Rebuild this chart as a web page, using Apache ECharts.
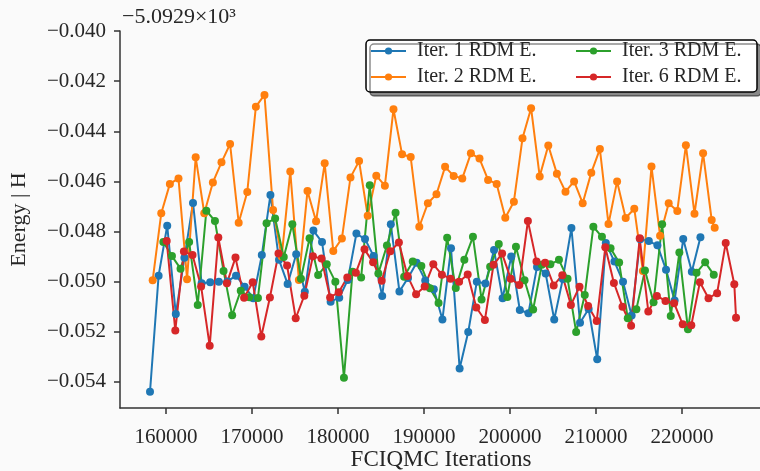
<!DOCTYPE html>
<html><head><meta charset="utf-8">
<script src="https://cdn.jsdelivr.net/npm/echarts@6/dist/echarts.min.js"></script>
<style>html,body{margin:0;padding:0;background:#fafafa}#c{width:760px;height:471px}</style>
</head><body><div id="c"></div>
<script>
// ---- data (energies shown relative to the offset -5.0929e3) ----
const seriesNames = ['Iter. 1 RDM E.', 'Iter. 2 RDM E.', 'Iter. 3 RDM E.', 'Iter. 6 RDM E.'];
const xTicks = [160000, 170000, 180000, 190000, 200000, 210000, 220000];
const yTicks = [-0.054, -0.052, -0.050, -0.048, -0.046, -0.044, -0.042, -0.040];

const blueX = [158140,159140,160140,161140,162140,163140,164140,165140,166140,167140,168140,169140,170140,171140,172140,173140,174140,175140,176140,177140,178140,179140,180140,181140,182140,183140,184140,185140,186140,187140,188140,189140,190140,191140,192140,193140,194140,195140,196140,197140,198140,199140,200140,201140,202140,203140,204140,205140,206140,207140,208140,209140,210140,211140,212140,213140,214140,215140,216140,217140,218140,219140,220140,221140,222140];
const blueY = [-0.05439,-0.04976,-0.04777,-0.05129,-0.04905,-0.04686,-0.05006,-0.05002,-0.05000,-0.04999,
  -0.04976,-0.05020,-0.05066,-0.04894,-0.04654,-0.04913,-0.05009,-0.04891,-0.05040,-0.04796,
  -0.04842,-0.05080,-0.05064,-0.04993,-0.04808,-0.04830,-0.04898,-0.05057,-0.04771,-0.05039,
  -0.04985,-0.04925,-0.04995,-0.05030,-0.05151,-0.04867,-0.05346,-0.05201,-0.05000,-0.05007,
  -0.04874,-0.05066,-0.04900,-0.05113,-0.05126,-0.04941,-0.04967,-0.05151,-0.04989,-0.04786,
  -0.05164,-0.05109,-0.05310,-0.04846,-0.04920,-0.05000,-0.05135,-0.04831,-0.04838,-0.04855,
  -0.04952,-0.05075,-0.04830,-0.04960,-0.04823];

const orangeX = [158450,159450,160450,161450,162450,163450,164450,165450,166450,167450,168450,169450,170450,171450,172450,173450,174450,175450,176450,177450,178450,179450,180450,181450,182450,183450,184450,185450,186450,187450,188450,189450,190450,191450,192450,193450,194450,195450,196450,197450,198450,199450,200450,201450,202450,203450,204450,205450,206450,207450,208450,209450,210450,211450,212450,213450,214450,215450,216450,217450,218450,219450,220450,221450,222450,223450,223800];
const orangeY = [-0.04994,-0.04727,-0.04610,-0.04588,-0.04990,-0.04504,-0.04727,-0.04604,-0.04524,-0.04451,
  -0.04765,-0.04642,-0.04302,-0.04255,-0.04714,-0.04900,-0.04561,-0.04993,-0.04638,-0.04759,
  -0.04528,-0.04878,-0.04828,-0.04584,-0.04519,-0.04737,-0.04577,-0.04617,-0.04312,-0.04492,
  -0.04503,-0.04781,-0.04687,-0.04651,-0.04542,-0.04578,-0.04588,-0.04488,-0.04509,-0.04594,
  -0.04610,-0.04745,-0.04681,-0.04428,-0.04308,-0.04580,-0.04457,-0.04569,-0.04641,-0.04600,
  -0.04687,-0.04565,-0.04471,-0.04770,-0.04600,-0.04746,-0.04709,-0.04957,-0.04541,-0.04817,
  -0.04687,-0.04718,-0.04456,-0.04729,-0.04488,-0.04754,-0.04785];

const greenX = [159690,160690,161690,162690,163690,164690,165690,166690,167690,168690,169690,170690,171690,172690,173690,174690,175690,176690,177690,178690,179690,180690,181690,182690,183690,184690,185690,186690,187690,188690,189690,190690,191690,192690,193690,194690,195690,196690,197690,198690,199690,200690,201690,202690,203690,204690,205690,206690,207690,208690,209690,210690,211690,212690,213690,214690,215690,216690,217690,218690,219690,220690,221690,222690,223690];
const greenY = [-0.04842,-0.04898,-0.04948,-0.04842,-0.05093,-0.04717,-0.04758,-0.04957,-0.05134,-0.05036,
  -0.05062,-0.05065,-0.04767,-0.04748,-0.04902,-0.04771,-0.04988,-0.04827,-0.04973,-0.04931,
  -0.05000,-0.05383,-0.04960,-0.04983,-0.04615,-0.04967,-0.04856,-0.04725,-0.04980,-0.04920,
  -0.04938,-0.05026,-0.05085,-0.04825,-0.05025,-0.04913,-0.04821,-0.05071,-0.04940,-0.04850,
  -0.05061,-0.04861,-0.04994,-0.05111,-0.04933,-0.04931,-0.04913,-0.04988,-0.05201,-0.05053,
  -0.04781,-0.04821,-0.04867,-0.04924,-0.05146,-0.05110,-0.04955,-0.05082,-0.04771,-0.05137,
  -0.04884,-0.05190,-0.04964,-0.04923,-0.04972];

const redX = [160080,161080,162080,163080,164080,165080,166080,167080,168080,169080,170080,171080,172080,173080,174080,175080,176080,177080,178080,179080,180080,181080,182080,183080,184080,185080,186080,187080,188080,189080,190080,191080,192080,193080,194080,195080,196080,197080,198080,199080,200080,201080,202080,203080,204080,205080,206080,207080,208080,209080,210080,211080,212080,213080,214080,215080,216080,217080,218080,219080,220080,221080,222080,223080,224080,225080,226080,226280];
const redY = [-0.04838,-0.05195,-0.04880,-0.04894,-0.05019,-0.05256,-0.04824,-0.05006,-0.04904,-0.05064,
  -0.05002,-0.05219,-0.05063,-0.04888,-0.04936,-0.05146,-0.05056,-0.04899,-0.04908,-0.05063,
  -0.05042,-0.04983,-0.04964,-0.04871,-0.04923,-0.04996,-0.04879,-0.04844,-0.04977,-0.05050,
  -0.05019,-0.04931,-0.04972,-0.04988,-0.05000,-0.04971,-0.05103,-0.05153,-0.04933,-0.04888,
  -0.04988,-0.05013,-0.04758,-0.04920,-0.04925,-0.05015,-0.04974,-0.05093,-0.05020,-0.05097,
  -0.05157,-0.04863,-0.05005,-0.05100,-0.05176,-0.04827,-0.05119,-0.05057,-0.05077,-0.05086,
  -0.05170,-0.05174,-0.05002,-0.05066,-0.05046,-0.04846,-0.05010,-0.05144];

// ---- chart ----
const FONT = 'Liberation Serif';
const TXT = '#262626';
const colors = ['#1f77b4', '#ff7f0e', '#2ca02c', '#d62728'];
const xsAll = [blueX, orangeX, greenX, redX];
const ysAll = [blueY, orangeY, greenY, redY];
const zip = (a, b) => a.map((v, i) => [v, b[i]]);
const legendPos = [[370, 41], [370, 67], [575, 41], [575, 67]];
const axisLineStyle = { color: '#333', width: 1.5 };

const chart = echarts.init(document.getElementById('c'), null, { renderer: 'canvas' });
chart.setOption({
  backgroundColor: '#fafafa',
  animation: false,
  grid: { left: 120, top: 31, width: 642, height: 377, containLabel: false, outerBoundsMode: 'none' },
  xAxis: {
    type: 'value', min: 154650, max: 229300,
    axisLine: { show: true, onZero: false, lineStyle: axisLineStyle },
    axisTick: { show: true, length: 6, lineStyle: axisLineStyle, customValues: xTicks },
    axisLabel: { customValues: xTicks, formatter: v => String(v), fontFamily: FONT, fontSize: 21, color: TXT, margin: 19 },
    splitLine: { show: false },
    name: 'FCIQMC Iterations', nameLocation: 'middle', nameGap: 52, nameMoveOverlap: false,
    nameTextStyle: { fontFamily: FONT, fontSize: 23, color: TXT, verticalAlign: 'middle' }
  },
  yAxis: {
    type: 'value', min: -0.05504, max: -0.040,
    axisLine: { show: true, onZero: false, lineStyle: axisLineStyle },
    axisTick: { show: true, length: 6, lineStyle: axisLineStyle, customValues: yTicks },
    axisLabel: { customValues: yTicks, formatter: v => (v < 0 ? '\u2212' : '') + Math.abs(v).toFixed(3),
      fontFamily: FONT, fontSize: 21, color: TXT, margin: 14 },
    splitLine: { show: false },
    name: 'Energy | H', nameLocation: 'middle', nameGap: 90, nameRotate: 90, nameMoveOverlap: false,
    nameTextStyle: { fontFamily: FONT, fontSize: 22, color: TXT }
  },
  legend: seriesNames.map((n, i) => ({
    data: [n], left: legendPos[i][0], top: legendPos[i][1], orient: 'horizontal',
    itemWidth: 35, itemHeight: 9, itemGap: 0, padding: 0, selectedMode: false, z: 20,
    textStyle: { fontFamily: FONT, fontSize: 20, color: TXT, padding: [0, 0, 0, 6], lineHeight: 20 }
  })),
  graphic: [
    { type: 'rect', z: 15, shape: { x: 366, y: 40, width: 391, height: 52, r: 4 },
      style: { fill: '#ffffff', stroke: '#000', lineWidth: 1.5, shadowColor: 'rgba(0,0,0,0.45)', shadowOffsetX: 4, shadowOffsetY: 4, shadowBlur: 0 } },
    { type: 'text', left: 122, top: 6, z: 15,
      style: { text: '\u22125.0929\u00d710\u00b3', font: '22px "Liberation Serif"', fill: TXT } }
  ],
  series: seriesNames.map((n, i) => ({
    name: n, type: 'line', data: zip(xsAll[i], ysAll[i]),
    symbol: 'circle', symbolSize: 8, showSymbol: true,
    itemStyle: { color: colors[i] }, lineStyle: { color: colors[i], width: 2 },
    emphasis: { disabled: true }
  }))
});
</script>
</body></html>
